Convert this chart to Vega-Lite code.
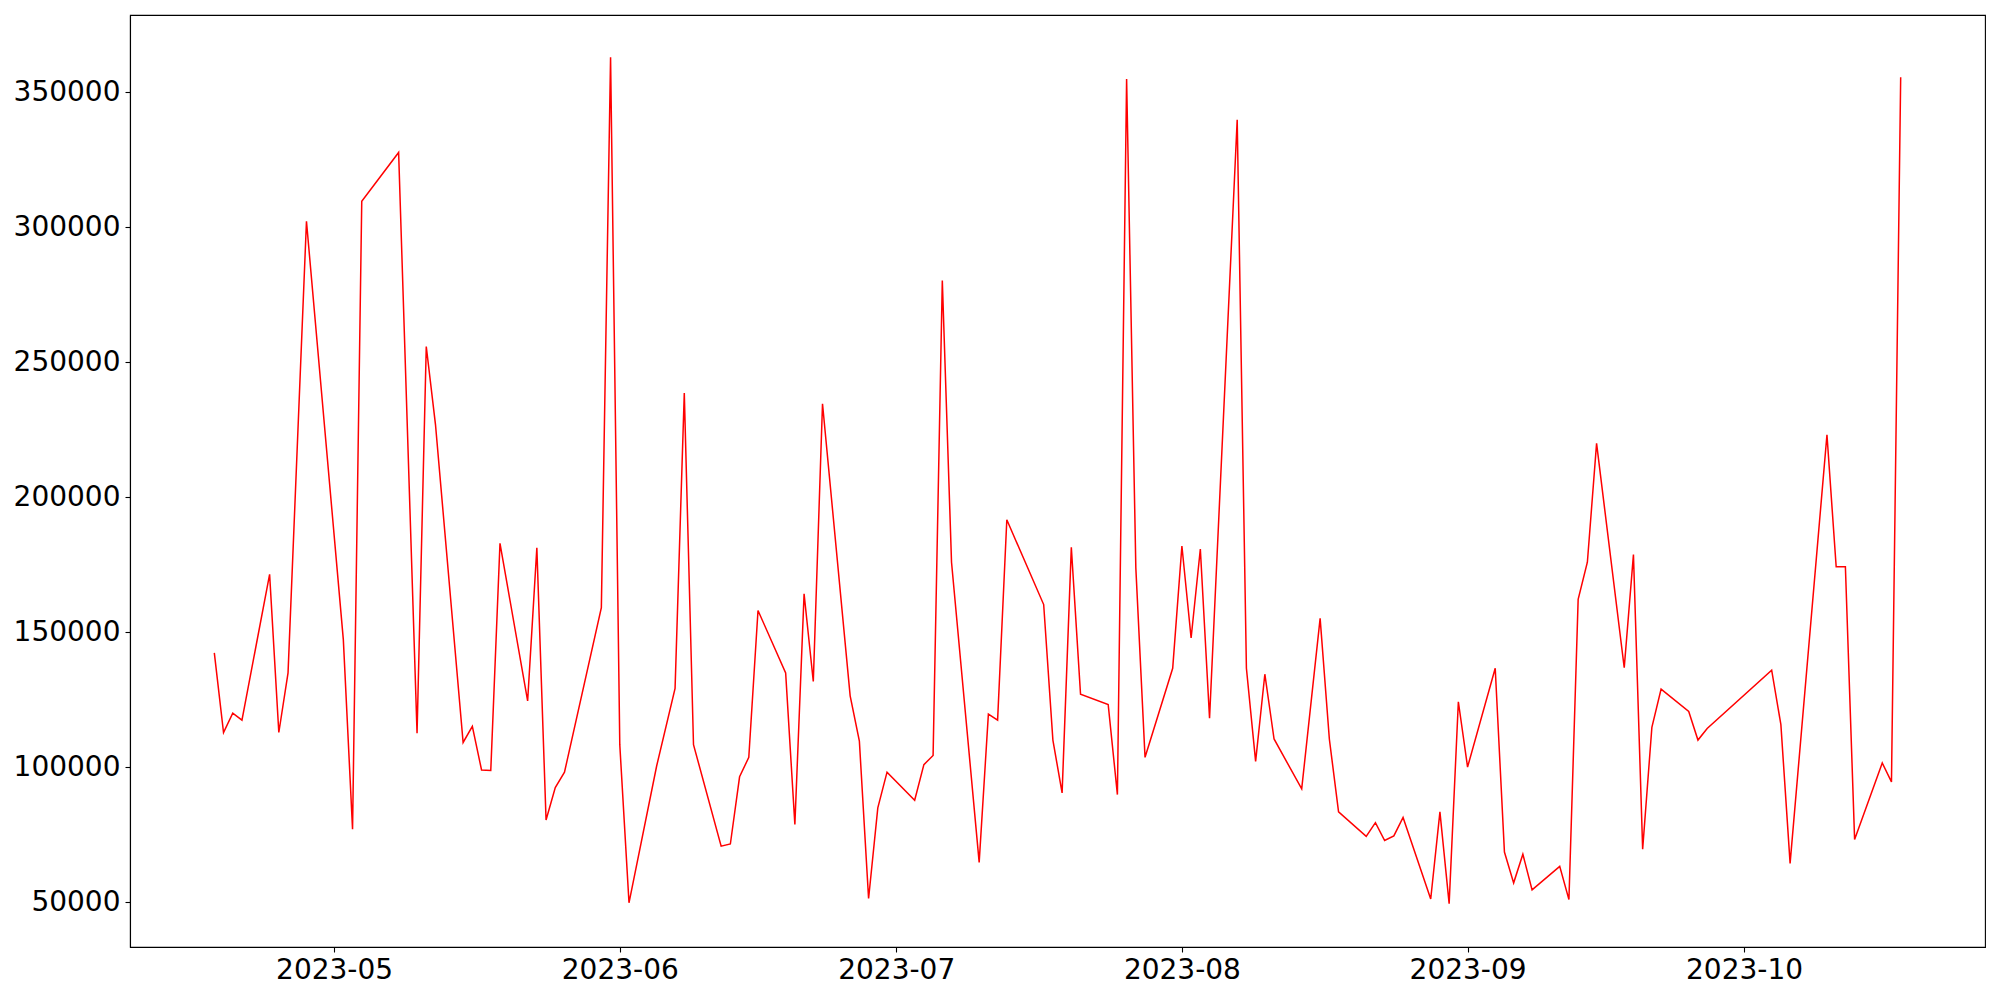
{
  "$schema": "https://vega.github.io/schema/vega-lite/v6.json",
  "width": 1855,
  "height": 932,
  "autosize": {"type": "none"},
  "padding": {"left": 130, "top": 15, "right": 15, "bottom": 53},
  "background": "white",
  "config": {
    "view": {"stroke": "black", "strokeWidth": 1.1},
    "font": "DejaVu Sans",
    "axis": {
      "grid": false,
      "domainColor": "black",
      "domainWidth": 1.1,
      "tickColor": "black",
      "tickWidth": 1.1,
      "tickSize": 5,
      "labelFont": "DejaVu Sans",
      "labelFontSize": 28,
      "labelColor": "black",
      "title": null
    }
  },
  "data": {
    "values": [
      {"date": "2023-04-18", "value": 142300},
      {"date": "2023-04-19", "value": 112800},
      {"date": "2023-04-20", "value": 120000},
      {"date": "2023-04-21", "value": 117400},
      {"date": "2023-04-24", "value": 171400},
      {"date": "2023-04-25", "value": 112800},
      {"date": "2023-04-26", "value": 134900},
      {"date": "2023-04-28", "value": 302200},
      {"date": "2023-05-02", "value": 147200},
      {"date": "2023-05-03", "value": 77000},
      {"date": "2023-05-04", "value": 309600},
      {"date": "2023-05-08", "value": 327700},
      {"date": "2023-05-10", "value": 112500},
      {"date": "2023-05-11", "value": 255800},
      {"date": "2023-05-12", "value": 226900},
      {"date": "2023-05-15", "value": 109100},
      {"date": "2023-05-16", "value": 115100},
      {"date": "2023-05-17", "value": 98900},
      {"date": "2023-05-18", "value": 98700},
      {"date": "2023-05-19", "value": 182900},
      {"date": "2023-05-22", "value": 124500},
      {"date": "2023-05-23", "value": 181200},
      {"date": "2023-05-24", "value": 80400},
      {"date": "2023-05-25", "value": 92400},
      {"date": "2023-05-26", "value": 98100},
      {"date": "2023-05-30", "value": 159100},
      {"date": "2023-05-31", "value": 363000},
      {"date": "2023-06-01", "value": 108300},
      {"date": "2023-06-02", "value": 49700},
      {"date": "2023-06-05", "value": 100400},
      {"date": "2023-06-07", "value": 129100},
      {"date": "2023-06-08", "value": 238600},
      {"date": "2023-06-09", "value": 108300},
      {"date": "2023-06-12", "value": 70700},
      {"date": "2023-06-13", "value": 71500},
      {"date": "2023-06-14", "value": 96400},
      {"date": "2023-06-15", "value": 103600},
      {"date": "2023-06-16", "value": 158000},
      {"date": "2023-06-19", "value": 134900},
      {"date": "2023-06-20", "value": 78700},
      {"date": "2023-06-21", "value": 164200},
      {"date": "2023-06-22", "value": 131700},
      {"date": "2023-06-23", "value": 234600},
      {"date": "2023-06-26", "value": 126400},
      {"date": "2023-06-27", "value": 109600},
      {"date": "2023-06-28", "value": 51300},
      {"date": "2023-06-29", "value": 84900},
      {"date": "2023-06-30", "value": 98100},
      {"date": "2023-07-03", "value": 87700},
      {"date": "2023-07-04", "value": 100900},
      {"date": "2023-07-05", "value": 104300},
      {"date": "2023-07-06", "value": 280300},
      {"date": "2023-07-07", "value": 175900},
      {"date": "2023-07-10", "value": 64700},
      {"date": "2023-07-11", "value": 119600},
      {"date": "2023-07-12", "value": 117400},
      {"date": "2023-07-13", "value": 191600},
      {"date": "2023-07-17", "value": 160200},
      {"date": "2023-07-18", "value": 110000},
      {"date": "2023-07-19", "value": 90400},
      {"date": "2023-07-20", "value": 181400},
      {"date": "2023-07-21", "value": 127000},
      {"date": "2023-07-24", "value": 123200},
      {"date": "2023-07-25", "value": 89800},
      {"date": "2023-07-26", "value": 354900},
      {"date": "2023-07-27", "value": 173800},
      {"date": "2023-07-28", "value": 103600},
      {"date": "2023-07-31", "value": 136600},
      {"date": "2023-08-01", "value": 181900},
      {"date": "2023-08-02", "value": 147800},
      {"date": "2023-08-03", "value": 180800},
      {"date": "2023-08-04", "value": 118100},
      {"date": "2023-08-07", "value": 339800},
      {"date": "2023-08-08", "value": 136600},
      {"date": "2023-08-09", "value": 102100},
      {"date": "2023-08-10", "value": 134400},
      {"date": "2023-08-11", "value": 110400},
      {"date": "2023-08-14", "value": 91900},
      {"date": "2023-08-16", "value": 155100},
      {"date": "2023-08-17", "value": 110400},
      {"date": "2023-08-18", "value": 83400},
      {"date": "2023-08-21", "value": 74300},
      {"date": "2023-08-22", "value": 79400},
      {"date": "2023-08-23", "value": 72800},
      {"date": "2023-08-24", "value": 74500},
      {"date": "2023-08-25", "value": 81300},
      {"date": "2023-08-28", "value": 51100},
      {"date": "2023-08-29", "value": 83400},
      {"date": "2023-08-30", "value": 49400},
      {"date": "2023-08-31", "value": 124200},
      {"date": "2023-09-01", "value": 100000},
      {"date": "2023-09-04", "value": 136600},
      {"date": "2023-09-05", "value": 68500},
      {"date": "2023-09-06", "value": 57100},
      {"date": "2023-09-07", "value": 67700},
      {"date": "2023-09-08", "value": 54500},
      {"date": "2023-09-11", "value": 63200},
      {"date": "2023-09-12", "value": 50900},
      {"date": "2023-09-13", "value": 162100},
      {"date": "2023-09-14", "value": 175900},
      {"date": "2023-09-15", "value": 219900},
      {"date": "2023-09-18", "value": 136800},
      {"date": "2023-09-19", "value": 178700},
      {"date": "2023-09-20", "value": 69600},
      {"date": "2023-09-21", "value": 114700},
      {"date": "2023-09-22", "value": 128900},
      {"date": "2023-09-25", "value": 120600},
      {"date": "2023-09-26", "value": 110000},
      {"date": "2023-09-27", "value": 114300},
      {"date": "2023-10-04", "value": 135900},
      {"date": "2023-10-05", "value": 115700},
      {"date": "2023-10-06", "value": 64300},
      {"date": "2023-10-10", "value": 223100},
      {"date": "2023-10-11", "value": 174200},
      {"date": "2023-10-12", "value": 174200},
      {"date": "2023-10-13", "value": 73200},
      {"date": "2023-10-16", "value": 101500},
      {"date": "2023-10-17", "value": 94500},
      {"date": "2023-10-18", "value": 355600}
    ]
  },
  "mark": {"type": "line", "color": "red", "strokeWidth": 1.5, "clip": true},
  "encoding": {
    "x": {
      "field": "date",
      "type": "temporal",
      "scale": {
        "type": "utc",
        "domain": [
          {"year": 2023, "month": 4, "date": 8, "hours": 20, "minutes": 24, "utc": true},
          {"year": 2023, "month": 10, "date": 27, "hours": 3, "minutes": 36, "utc": true}
        ],
        "nice": false
      },
      "axis": {
        "values": [
          {"year": 2023, "month": 5, "date": 1, "utc": true},
          {"year": 2023, "month": 6, "date": 1, "utc": true},
          {"year": 2023, "month": 7, "date": 1, "utc": true},
          {"year": 2023, "month": 8, "date": 1, "utc": true},
          {"year": 2023, "month": 9, "date": 1, "utc": true},
          {"year": 2023, "month": 10, "date": 1, "utc": true}
        ],
        "labelExpr": "utcFormat(datum.value, '%Y-%m')",
        "labelPadding": 4,
        "labelFlush": false,
        "labelOverlap": false
      }
    },
    "y": {
      "field": "value",
      "type": "quantitative",
      "scale": {"domain": [33333, 378630], "nice": false, "zero": false},
      "axis": {
        "values": [50000, 100000, 150000, 200000, 250000, 300000, 350000],
        "format": "d",
        "labelPadding": 5,
        "labelFlush": false,
        "labelOverlap": false
      }
    }
  }
}
